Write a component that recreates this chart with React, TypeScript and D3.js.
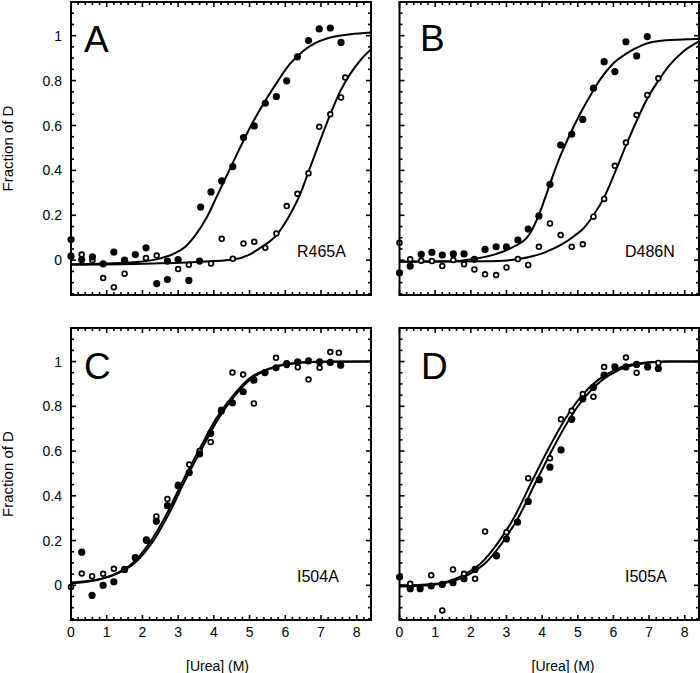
import React from "react";
import * as d3 from "d3";

type Pt = [number, number];

// ---------- tick values / labels ----------
const xTickValues = [0, 1, 2, 3, 4, 5, 6, 7, 8];
const xTickLabels = ["0", "1", "2", "3", "4", "5", "6", "7", "8"];
const yTickValues = [0, 0.2, 0.4, 0.6, 0.8, 1];
const yTickLabels = ["0", "0.2", "0.4", "0.6", "0.8", "1"];
const xMinorStep = 0.2;
const yMinorStep = 0.05;
const X_DOMAIN: Pt = [0, 8.4];
const Y_DOMAIN: Pt = [-0.155, 1.15];

const xTitle = "[Urea] (M)";
const yTitle = "Fraction of D";

// ---------- Panel A : R465A ----------
const aFilled: Pt[] = [
  [0, 0.092], [0, 0.018], [0.3, 0.003], [0.6, 0.015], [0.9, -0.016], [1.2, 0.036],
  [1.5, 0.0], [1.8, 0.025], [2.1, 0.055], [2.4, -0.104], [2.7, -0.004], [2.7, -0.086],
  [3.0, 0.003], [3.3, -0.09], [3.6, -0.004], [3.63, 0.237], [3.92, 0.304], [4.22, 0.353],
  [4.53, 0.417], [4.83, 0.546], [5.13, 0.598], [5.44, 0.699], [5.75, 0.729], [6.04, 0.799],
  [6.34, 0.906], [6.65, 0.978], [6.95, 1.03], [7.26, 1.034], [7.56, 0.97],
];
const aOpen: Pt[] = [
  [0.3, 0.025], [0.6, 0.0], [0.9, -0.079], [1.2, -0.12], [1.5, -0.06], [2.1, 0.01],
  [2.4, 0.021], [3.0, -0.039], [3.3, -0.02], [3.92, -0.015], [4.22, 0.095], [4.53, 0.006],
  [4.83, 0.074], [5.13, 0.082], [5.44, 0.055], [5.75, 0.119], [6.04, 0.241], [6.34, 0.296],
  [6.65, 0.387], [6.95, 0.594], [7.26, 0.65], [7.56, 0.725], [7.68, 0.814],
];
const aFitFilled: Pt[] = [
  [0, -0.018], [1, -0.015], [2, -0.006], [2.5, 0.008], [2.9, 0.03], [3.2, 0.06], [3.5, 0.115],
  [3.8, 0.19], [4.1, 0.29], [4.46, 0.41], [4.73, 0.5], [5.01, 0.59], [5.38, 0.695], [5.76, 0.79],
  [6.13, 0.874], [6.51, 0.933], [6.88, 0.97], [7.35, 0.995], [7.82, 1.006], [8.4, 1.014],
];
const aFitOpen: Pt[] = [
  [0, -0.02], [2, -0.016], [3.5, -0.008], [4.55, 0.003], [5.0, 0.025], [5.3, 0.055],
  [5.76, 0.113], [6.13, 0.202], [6.41, 0.292], [6.69, 0.411], [6.97, 0.53], [7.26, 0.649],
  [7.54, 0.753], [7.82, 0.83], [8.1, 0.89], [8.4, 0.94],
];

// ---------- Panel B : D486N ----------
const bFilled: Pt[] = [
  [0, -0.056], [0.3, -0.026], [0.61, 0.026], [0.91, 0.035], [1.2, 0.023], [1.51, 0.028],
  [1.81, 0.028], [2.1, 0.004], [2.4, 0.048], [2.71, 0.06], [3.0, 0.059], [3.32, 0.09],
  [3.61, 0.139], [3.91, 0.197], [4.22, 0.338], [4.52, 0.513], [4.83, 0.561], [5.14, 0.627],
  [5.44, 0.766], [5.74, 0.884], [6.04, 0.84], [6.35, 0.973], [6.65, 0.91], [6.95, 0.996],
];
const bOpen: Pt[] = [
  [0, 0.078], [0.3, 0.004], [0.61, -0.002], [0.91, -0.004], [1.2, -0.026], [1.51, 0.001],
  [1.81, -0.018], [2.1, -0.041], [2.4, -0.063], [2.71, -0.066], [3.0, -0.032], [3.32, 0.005],
  [3.61, -0.021], [3.91, 0.06], [4.22, 0.164], [4.52, 0.112], [4.83, 0.06], [5.14, 0.071],
  [5.44, 0.194], [5.74, 0.273], [6.04, 0.421], [6.35, 0.524], [6.65, 0.647], [6.95, 0.736],
  [7.26, 0.81],
];
const bFitFilled: Pt[] = [
  [0, -0.007], [1.5, -0.005], [2.03, 0.004], [2.68, 0.026], [3.15, 0.056], [3.62, 0.11],
  [3.85, 0.18], [4.0, 0.24], [4.22, 0.34], [4.5, 0.46], [4.75, 0.55], [5.06, 0.65],
  [5.34, 0.73], [5.62, 0.803], [6.0, 0.877], [6.37, 0.921], [6.83, 0.959], [7.39, 0.978],
  [8.4, 0.985],
];
const bFitOpen: Pt[] = [
  [0, -0.007], [2.5, -0.005], [3.33, 0.005], [4.08, 0.035], [4.55, 0.07], [4.92, 0.11],
  [5.15, 0.14], [5.44, 0.2], [5.74, 0.28], [6.04, 0.39], [6.35, 0.51], [6.65, 0.62],
  [6.95, 0.72], [7.26, 0.8], [7.58, 0.87], [7.96, 0.93], [8.4, 0.975],
];

// ---------- Panel C : I504A ----------
const cFilled: Pt[] = [
  [0.3, 0.148], [0.59, -0.045], [0.9, 0.0], [1.2, 0.016], [1.5, 0.071], [1.8, 0.123],
  [2.11, 0.201], [2.39, 0.286], [2.7, 0.356], [3.0, 0.445], [3.31, 0.504], [3.6, 0.587],
  [3.91, 0.679], [4.21, 0.779], [4.52, 0.816], [4.82, 0.865], [5.12, 0.917], [5.43, 0.951],
  [5.74, 0.972], [6.04, 0.991], [6.35, 0.999], [6.65, 1.003], [6.96, 0.999], [7.26, 0.996],
  [7.55, 0.984],
];
const cOpen: Pt[] = [
  [0, -0.008], [0.3, 0.053], [0.59, 0.041], [0.9, 0.052], [1.2, 0.074], [1.5, 0.071],
  [1.8, 0.125], [2.11, 0.205], [2.39, 0.308], [2.7, 0.386], [3.0, 0.45], [3.31, 0.54],
  [3.6, 0.6], [3.91, 0.64], [4.21, 0.785], [4.52, 0.951], [4.82, 0.942], [5.12, 0.813],
  [5.43, 0.95], [5.74, 1.017], [6.04, 0.985], [6.35, 0.975], [6.65, 0.92], [6.96, 0.972],
  [7.26, 1.043], [7.5, 1.039],
];
const cFitFilled: Pt[] = [
  [0, 0.008], [0.86, 0.029], [1.3, 0.055], [1.73, 0.1], [2.2, 0.19], [2.67, 0.316],
  [3.14, 0.47], [3.6, 0.609], [4.07, 0.746], [4.55, 0.85], [5.0, 0.925], [5.48, 0.965],
  [5.95, 0.987], [6.88, 0.999], [8.4, 1.0],
];
const cFitOpen: Pt[] = [
  [0, 0.013], [0.9, 0.031], [1.35, 0.057], [1.8, 0.102], [2.27, 0.19], [2.73, 0.316],
  [3.2, 0.47], [3.66, 0.609], [4.13, 0.746], [4.6, 0.85], [5.05, 0.925], [5.53, 0.965],
  [6.0, 0.987], [6.93, 0.999], [8.4, 1.0],
];

// ---------- Panel D : I505A ----------
const dFilled: Pt[] = [
  [0, 0.037], [0.3, -0.015], [0.58, -0.015], [0.89, -0.003], [1.2, 0.004], [1.5, 0.012],
  [1.81, 0.029], [2.12, 0.071], [2.72, 0.133], [3.0, 0.207], [3.31, 0.282], [3.61, 0.375],
  [3.92, 0.472], [4.22, 0.528], [4.53, 0.605], [4.83, 0.742], [5.14, 0.833], [5.44, 0.885],
  [5.74, 0.939], [6.04, 0.976], [6.35, 0.976], [6.65, 0.987], [6.96, 0.976], [7.26, 0.969],
];
const dOpen: Pt[] = [
  [0.3, 0.007], [0.89, 0.045], [1.2, -0.112], [1.5, 0.071], [1.81, 0.052], [2.12, 0.029],
  [2.4, 0.241], [2.72, 0.13], [3.0, 0.237], [3.61, 0.479], [4.22, 0.568], [4.53, 0.742],
  [4.83, 0.78], [5.14, 0.855], [5.44, 0.843], [5.74, 0.976], [6.35, 1.018], [6.65, 0.95],
  [7.26, 0.994],
];
const dFitOpen: Pt[] = [
  [0, 0.0], [0.9, 0.005], [1.83, 0.049], [2.29, 0.1], [2.76, 0.19], [3.23, 0.308],
  [3.69, 0.457], [4.16, 0.605], [4.63, 0.739], [5.09, 0.843], [5.56, 0.917], [6.03, 0.962],
  [6.5, 0.987], [7.44, 1.0], [8.4, 1.0],
];
const dFitFilled: Pt[] = [
  [0, -0.005], [1.01, 0.004], [1.95, 0.049], [2.41, 0.1], [2.88, 0.19], [3.35, 0.308],
  [3.81, 0.457], [4.28, 0.605], [4.75, 0.739], [5.21, 0.843], [5.68, 0.917], [6.15, 0.962],
  [6.62, 0.987], [7.56, 1.0], [8.4, 1.0],
];

// ---------- layout ----------
const W = 700;
const H = 673;
const FONT = "'Liberation Sans', Arial, Helvetica, sans-serif";

type Panel = {
  key: string;
  left: number; right: number; top: number; bottom: number;
  letter: string; letterX: number; letterY: number;
  label: string; labelX: number; labelY: number;
  filled: Pt[]; open: Pt[]; fits: Pt[][];
  showY: boolean; showX: boolean; xTitleX: number;
};

const panels: Panel[] = [
  { key: "A", left: 71, right: 371, top: 2, bottom: 295, letter: "A", letterX: 84, letterY: 51.5,
    label: "R465A", labelX: 297, labelY: 257, filled: aFilled, open: aOpen,
    fits: [aFitFilled, aFitOpen], showY: true, showX: false, xTitleX: 0 },
  { key: "B", left: 399.5, right: 699, top: 2, bottom: 295, letter: "B", letterX: 420, letterY: 51,
    label: "D486N", labelX: 625, labelY: 257, filled: bFilled, open: bOpen,
    fits: [bFitFilled, bFitOpen], showY: false, showX: false, xTitleX: 0 },
  { key: "C", left: 71, right: 371, top: 328, bottom: 620, letter: "C", letterX: 84, letterY: 379,
    label: "I504A", labelX: 297, labelY: 582, filled: cFilled, open: cOpen,
    fits: [cFitFilled, cFitOpen], showY: true, showX: true, xTitleX: 217.5 },
  { key: "D", left: 399.5, right: 699, top: 328, bottom: 620, letter: "D", letterX: 421, letterY: 379,
    label: "I505A", labelX: 625, labelY: 582, filled: dFilled, open: dOpen,
    fits: [dFitFilled, dFitOpen], showY: false, showX: true, xTitleX: 563 },
];

function PanelView({ p }: { p: Panel }) {
  const x = d3.scaleLinear().domain(X_DOMAIN).range([p.left, p.right]);
  const y = d3.scaleLinear().domain(Y_DOMAIN).range([p.bottom, p.top]);
  const line = d3
    .line<Pt>()
    .x((d) => x(d[0]))
    .y((d) => y(d[1]))
    .curve(d3.curveMonotoneX);

  const xMinor = d3.range(0, X_DOMAIN[1] + 1e-6, xMinorStep).filter(
    (v) => Math.abs(v - Math.round(v)) > 1e-6
  );
  const yMinor = d3.range(-0.15, Y_DOMAIN[1] + 1e-6, yMinorStep).filter(
    (v) => !yTickValues.some((t) => Math.abs(t - v) < 1e-6)
  );
  const MAJ = 5;
  const MIN = 3;
  const clipId = `clip-${p.key}`;

  return (
    <g>
      <defs>
        <clipPath id={clipId}>
          <rect x={p.left} y={p.top} width={p.right - p.left} height={p.bottom - p.top} />
        </clipPath>
      </defs>

      {/* ticks */}
      <g stroke="#000" strokeWidth={1.6}>
        {xTickValues.map((v) => (
          <g key={`xm${v}`}>
            <line x1={x(v)} x2={x(v)} y1={p.bottom} y2={p.bottom - MAJ} />
            <line x1={x(v)} x2={x(v)} y1={p.top} y2={p.top + MAJ} />
          </g>
        ))}
        {xMinor.map((v) => (
          <g key={`xn${v}`}>
            <line x1={x(v)} x2={x(v)} y1={p.bottom} y2={p.bottom - MIN} />
            <line x1={x(v)} x2={x(v)} y1={p.top} y2={p.top + MIN} />
          </g>
        ))}
        {yTickValues.map((v) => (
          <g key={`ym${v}`}>
            <line x1={p.left} x2={p.left + MAJ} y1={y(v)} y2={y(v)} />
            <line x1={p.right} x2={p.right - MAJ} y1={y(v)} y2={y(v)} />
          </g>
        ))}
        {yMinor.map((v) => (
          <g key={`yn${v}`}>
            <line x1={p.left} x2={p.left + MIN} y1={y(v)} y2={y(v)} />
            <line x1={p.right} x2={p.right - MIN} y1={y(v)} y2={y(v)} />
          </g>
        ))}
      </g>

      {/* fitted curves */}
      <g clipPath={`url(#${clipId})`}>
        {p.fits.map((f, i) => (
          <path key={i} d={line(f) || ""} fill="none" stroke="#000" strokeWidth={2} />
        ))}
      </g>

      {/* data points */}
      <g>
        {p.open.map((d, i) => (
          <circle key={`o${i}`} cx={x(d[0])} cy={y(d[1])} r={2.4} fill="#fff" stroke="#000" strokeWidth={1.7} />
        ))}
        {p.filled.map((d, i) => (
          <circle key={`f${i}`} cx={x(d[0])} cy={y(d[1])} r={3.6} fill="#000" />
        ))}
      </g>

      {/* frame */}
      <rect x={p.left} y={p.top} width={p.right - p.left} height={p.bottom - p.top}
        fill="none" stroke="#000" strokeWidth={2} />

      {/* letters and labels */}
      <text x={p.letterX} y={p.letterY} fontSize={37} fontFamily={FONT} fill="#000">{p.letter}</text>
      <text x={p.labelX} y={p.labelY} fontSize={16} fontFamily={FONT} fill="#000">{p.label}</text>

      {p.showY &&
        yTickValues.map((v, i) => (
          <text key={`yl${v}`} x={62} y={y(v)} dy="0.36em" textAnchor="end" fontSize={14} fontFamily={FONT}>
            {yTickLabels[i]}
          </text>
        ))}
      {p.showY && (
        <text transform={`translate(13,${(p.top + p.bottom) / 2}) rotate(-90)`} textAnchor="middle"
          fontSize={15} fontFamily={FONT}>
          {yTitle}
        </text>
      )}
      {p.showX &&
        xTickValues.map((v, i) => (
          <text key={`xl${v}`} x={x(v)} y={p.bottom + 17} textAnchor="middle" fontSize={14} fontFamily={FONT}>
            {xTickLabels[i]}
          </text>
        ))}
      {p.showX && (
        <text x={p.xTitleX} y={670.5} textAnchor="middle" fontSize={14} fontFamily={FONT}>
          {xTitle}
        </text>
      )}
    </g>
  );
}

export default function App() {
  return (
    <svg width={W} height={H} viewBox={`0 0 ${W} ${H}`}
      style={{ position: "absolute", left: 0, top: 0, background: "#fff", display: "block" }}>
      <rect x={0} y={0} width={W} height={H} fill="#fff" />
      {panels.map((p) => (
        <PanelView key={p.key} p={p} />
      ))}
    </svg>
  );
}
